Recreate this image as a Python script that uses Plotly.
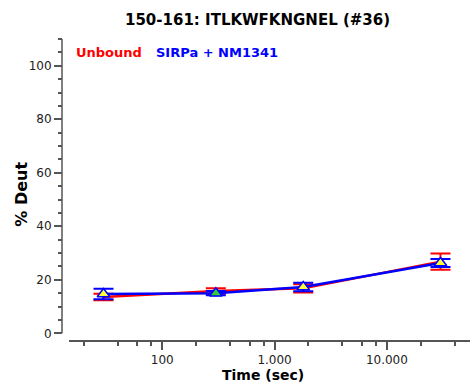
import plotly.graph_objects as go

# Exchange times (seconds) and deuterium uptake (%) per state
times = [30, 300, 1800, 30000]
unbound = [13.6, 15.8, 16.8, 26.8]
unbound_err = [1.2, 1.0, 1.5, 3.0]
complex_vals = [14.7, 15.0, 17.3, 26.3]
complex_err = [2.0, 0.8, 1.6, 1.5]
complex_fill = ["#ffff33", "#33cc33", "#ffff33", "#ffff33"]

title_text = "150-161: ITLKWFKNGNEL (#36)"
series_names = ["Unbound", "SIRPa + NM1341"]
series_colors = ["#ff0000", "#0000ff"]

x_tickvals = [100, 1000, 10000]
x_ticktext = ["100", "1.000", "10.000"]
x_minor = [20, 40, 60, 80, 200, 400, 600, 800, 2000, 4000, 6000, 8000, 20000, 40000]
y_tickvals = [0, 20, 40, 60, 80, 100]
y_minor = [v for v in range(5, 111, 5) if v % 20 != 0]

W, H = 473, 382
ML, MR, MT, MB = 62, 3, 39, 42
PW, PH = W - ML - MR, H - MT - MB
FONT = "DejaVu Sans"


def px(x):
    return (x - ML) / PW


def py(y):
    return (H - MB - y) / PH


fig = go.Figure()

fig.add_trace(go.Scatter(
    x=times, y=unbound, name=series_names[0], mode="lines",
    line=dict(color=series_colors[0], width=2.5),
    error_y=dict(type="data", array=unbound_err, color=series_colors[0],
                 thickness=2, width=10),
))
fig.add_trace(go.Scatter(
    x=times, y=complex_vals, name=series_names[1], mode="lines+markers",
    line=dict(color=series_colors[1], width=2.5),
    marker=dict(symbol="triangle-up", size=11, color=complex_fill,
                line=dict(color=series_colors[1], width=1.5)),
    error_y=dict(type="data", array=complex_err, color=series_colors[1],
                 thickness=2, width=10),
))

axis_color = "#555555"
tick_font = dict(family=FONT, size=12, color="#222222")

fig.update_layout(
    width=W, height=H,
    margin=dict(l=ML, r=MR, t=MT, b=MB),
    paper_bgcolor="white", plot_bgcolor="white",
    showlegend=False,
    xaxis=dict(
        type="log", domain=[7 / PW, 1], range=[1.170, 4.740],
        showgrid=False, zeroline=False,
        showline=True, linecolor=axis_color, linewidth=1.5,
        ticks="outside", ticklen=8, tickwidth=1.5, tickcolor=axis_color,
        tickmode="array", tickvals=x_tickvals, ticktext=x_ticktext,
        tickfont=tick_font,
        minor=dict(tickmode="array", tickvals=x_minor, ticks="outside",
                   ticklen=4, tickwidth=1.5, tickcolor=axis_color),
    ),
    yaxis=dict(
        anchor="free", position=0, range=[-2.5, 110],
        showgrid=False, zeroline=False, showline=False,
        ticks="outside", ticklen=8, tickwidth=1.5, tickcolor=axis_color,
        tickmode="array", tickvals=y_tickvals,
        tickfont=tick_font,
        minor=dict(tickmode="array", tickvals=y_minor, ticks="outside",
                   ticklen=4, tickwidth=1.5, tickcolor=axis_color),
    ),
)

# y axis spine only spans the data range
fig.add_shape(type="line", xref="paper", yref="y", x0=0, x1=0, y0=0, y1=110,
              line=dict(color=axis_color, width=1.5))

annotations = [
    dict(text=f"<b>{title_text}</b>", x=px(257), y=py(20),
         font=dict(family=FONT, size=15, color="black")),
    dict(text="<b>% Deut</b>", x=px(21.7), y=py(194), textangle=-90,
         font=dict(family=FONT, size=16, color="black")),
    dict(text="<b>Time (sec)</b>", x=px(262.5), y=py(374.5),
         font=dict(family=FONT, size=14, color="black")),
    dict(text=f"<b>{series_names[0]}</b>", x=px(74), y=py(53), xanchor="left",
         font=dict(family=FONT, size=13, color=series_colors[0])),
    dict(text=f"<b>{series_names[1]}</b>", x=px(154), y=py(53), xanchor="left",
         font=dict(family=FONT, size=13, color=series_colors[1])),
]
for a in annotations:
    a.setdefault("xanchor", "center")
    fig.add_annotation(xref="paper", yref="paper", yanchor="middle",
                       showarrow=False, **a)

fig.write_html("out.html")
